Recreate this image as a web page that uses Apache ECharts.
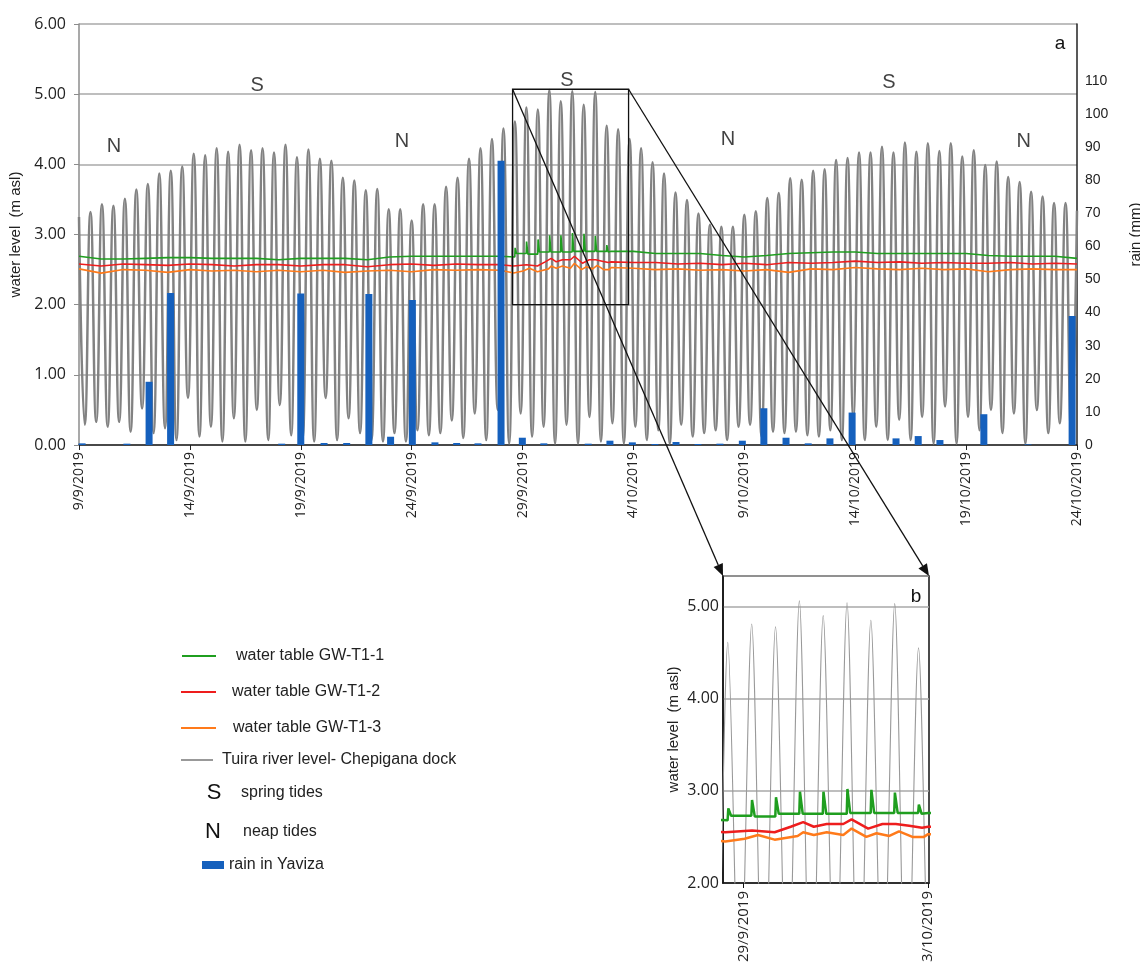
<!DOCTYPE html>
<html>
<head>
<meta charset="utf-8">
<title>Tuira river level, water table and rain</title>
<script src="https://cdn.jsdelivr.net/npm/echarts@6/dist/echarts.min.js"></script>
<style>
  html, body { margin: 0; padding: 0; background: #fff; }
  #chart { width: 1140px; height: 971px; }
</style>
</head>
<body>
<div id="chart"></div>
<script>
// x values are days counted from 9/9/2019
const dateTicks = ['9/9/2019', '14/9/2019', '19/9/2019', '24/9/2019', '29/9/2019',
  '4/10/2019', '9/10/2019', '14/10/2019', '19/10/2019', '24/10/2019']

// Tuira river, Chepigana dock: successive high and low waters (m asl)
const tideHighs = [
  3.25, 3.32, 3.43, 3.41, 3.51, 3.64, 3.72, 3.87, 3.91, 3.97, 4.15, 4.13, 4.23, 4.18, 4.28, 4.20,
  4.23, 4.17, 4.28, 4.10, 4.21, 4.08, 4.05, 3.81, 3.77, 3.63, 3.65,
  3.36, 3.36, 3.20, 3.43, 3.43, 3.68, 3.81, 4.08, 4.23, 4.36, 4.51, 4.61, 4.81, 4.78, 5.06, 4.90,
  5.04, 4.85, 5.03, 4.55, 4.50, 4.36, 4.23, 4.03, 3.87, 3.60, 3.49, 3.30, 3.14, 3.11, 3.11, 3.28,
  3.33, 3.52, 3.59, 3.80, 3.78, 3.91, 3.93, 4.06, 4.09, 4.17, 4.17, 4.25, 4.17, 4.31, 4.18, 4.30,
  4.19, 4.30, 4.11, 4.20, 3.99, 4.04, 3.82, 3.75, 3.61, 3.54, 3.45, 3.45, 3.34
]
const tideLows = [
  0.29, 0.33, 0.26, 0.33, 0.19, 0.52, 0.17, 0.24, 0.07, 0.67, 0.12, 0.26, 0.05, 0.38, 0.05, 0.50,
  0.07, 0.57, 0.14, 0.10, 0.05, 0.67, 0.07, 0.38, 0.17, 0.07,
  0.05, 0.17, 0.05, 0.21, 0.14, 0.17, 0.35, 0.10, 0.45, 0.07, 0.50, 0.02, 0.45, 0.12, 0.26, 0.02,
  0.29, 0.02, 0.40, 0.05, 0.31, 0.02, 0.26, 0.07, 0.21, 0.02, 0.29, 0.12, 0.17, 0.21, 0.07, 0.26,
  0.29, 0.12, 0.19, 0.17, 0.19, 0.14, 0.12, 0.21, 0.07, 0.40, 0.07, 0.26, 0.07, 0.36, 0.07, 0.40,
  0.02, 0.55, 0.02, 0.40, 0.21, 0.50, 0.17, 0.45, 0.02, 0.50, 0.17, 0.31, 0.17
]
const tideStep = 45 / 174 // half a tidal cycle, in days

// water table, one reading per day (days 0..45)
const gw1Daily = [2.69, 2.65, 2.65, 2.66, 2.67, 2.67, 2.66, 2.66, 2.66, 2.64, 2.66, 2.66, 2.66, 2.64,
  2.68, 2.69, 2.69, 2.69, 2.69, 2.69, 2.74, 2.74, 2.75, 2.75, 2.76, 2.76, 2.73, 2.73, 2.73, 2.70,
  2.68, 2.70, 2.73, 2.74, 2.75, 2.75, 2.73, 2.73, 2.73, 2.73, 2.73, 2.70, 2.69, 2.69, 2.69, 2.66]
const gw2Daily = [2.58, 2.55, 2.58, 2.57, 2.56, 2.58, 2.57, 2.55, 2.57, 2.57, 2.55, 2.57, 2.57, 2.54,
  2.57, 2.58, 2.56, 2.58, 2.57, 2.57, 2.60, 2.62, 2.63, 2.66, 2.61, 2.60, 2.60, 2.58, 2.59, 2.57,
  2.59, 2.57, 2.60, 2.59, 2.60, 2.62, 2.60, 2.61, 2.59, 2.60, 2.59, 2.59, 2.60, 2.58, 2.59, 2.58]
const gw3Daily = [2.51, 2.45, 2.50, 2.49, 2.46, 2.50, 2.48, 2.49, 2.47, 2.49, 2.47, 2.49, 2.46, 2.48,
  2.49, 2.47, 2.50, 2.49, 2.50, 2.49, 2.52, 2.54, 2.55, 2.57, 2.53, 2.52, 2.50, 2.51, 2.49, 2.50,
  2.48, 2.50, 2.46, 2.51, 2.50, 2.53, 2.51, 2.50, 2.52, 2.50, 2.51, 2.47, 2.50, 2.51, 2.50, 2.50]

// spring tide window (29/9 - 3/10), read at high resolution
const gw1SpikeDays = [19.665, 20.18, 20.70, 21.22, 21.73, 22.25, 22.77, 23.28, 23.80]
const gw1SpikePeaks = [2.81, 2.90, 2.93, 2.99, 2.99, 3.02, 3.01, 2.98, 2.85]
const gw1SpikeBase = [2.73, 2.72, 2.75, 2.75, 2.75, 2.76, 2.76, 2.76, 2.75]
const gw2Window = [[19.6, 2.55], [20.18, 2.57], [20.67, 2.55], [21.02, 2.61], [21.29, 2.66],
  [21.52, 2.61], [21.80, 2.64], [22.16, 2.64], [22.34, 2.69], [22.70, 2.59], [23.01, 2.64],
  [23.30, 2.64], [23.59, 2.62], [23.87, 2.60]]
const gw3Window = [[19.6, 2.45], [20.02, 2.48], [20.31, 2.52], [20.67, 2.47], [21.17, 2.51],
  [21.29, 2.55], [21.52, 2.52], [21.80, 2.55], [22.16, 2.52], [22.34, 2.59], [22.66, 2.50],
  [22.88, 2.54], [23.16, 2.51], [23.37, 2.56], [23.66, 2.50], [23.91, 2.50]]

// rain in Yaviza (mm)
const rainDays = [0.14, 2.16, 3.16, 4.13, 9.14, 10.0, 11.05, 12.07, 13.07, 14.05, 15.03, 16.05,
  17.03, 17.99, 19.03, 19.99, 20.96, 22.96, 23.94, 24.95, 25.97, 26.92, 27.91, 28.9, 29.91, 30.88,
  31.88, 32.88, 33.86, 34.86, 36.84, 37.84, 38.82, 40.8, 42.79, 44.78]
const rainMm = [0.5, 0.4, 19.1, 45.9, 0.4, 45.8, 0.6, 0.6, 45.6, 2.5, 43.8, 0.8, 0.6, 0.5, 85.9,
  2.2, 0.5, 0.4, 1.3, 0.8, 0.3, 0.9, 0.3, 0.4, 1.3, 11.1, 2.2, 0.5, 2.0, 9.8, 2.0, 2.7, 1.5, 9.3,
  0.2, 39]

// spring / neap marks
const phaseLabels = ['N', 'S', 'N', 'S', 'N', 'S', 'N']
const phaseDays = [1.58, 8.03, 14.56, 22.0, 29.26, 36.52, 42.6]
const phaseLevels = [4.25, 5.13, 4.33, 5.2, 4.35, 5.16, 4.33]

// zoomed box (days, levels) and inset b
const zoomBox = [19.55, 24.78, 2.0, 5.07]
const insetRange = [19.55, 24.02]
const insetMax = 5.33
const insetTickDays = [20, 24]
const insetTickLabels = ['29/9/2019', '3/10/2019']

const GREEN = '#1f9e1f'
const RED = '#ee1d1d'
const ORANGE = '#ff7a1a'
const GREY = '#828282'
const BLUE = '#1560bd'

const tideData = []
tideHighs.forEach((h, i) => {
  tideData.push([2 * i * tideStep, h])
  if (i < tideLows.length) tideData.push([(2 * i + 1) * tideStep, tideLows[i]])
})

const gw1Data = []
gw1Daily.forEach((v, d) => { if (d < 19.5) gw1Data.push([d, v]) })
gw1SpikeDays.forEach((t, i) => {
  const before = i === 0 ? 2.68 : gw1SpikeBase[i - 1]
  gw1Data.push([t - 0.015, before], [t, gw1SpikePeaks[i]], [t + 0.06, gw1SpikeBase[i]])
})
gw1Daily.forEach((v, d) => { if (d > 23.95) gw1Data.push([d, v]) })

const mergeWindow = (daily, win) => {
  const out = []
  daily.forEach((v, d) => { if (d < 19.5) out.push([d, v]) })
  win.forEach(p => out.push(p))
  daily.forEach((v, d) => { if (d > 23.95) out.push([d, v]) })
  return out
}
const gw2Data = mergeWindow(gw2Daily, gw2Window)
const gw3Data = mergeWindow(gw3Daily, gw3Window)
const rainData = rainDays.map((d, i) => [d, rainMm[i]])
const phaseData = phaseDays.map((d, i) => [d, phaseLevels[i], phaseLabels[i]])

const chart = echarts.init(document.getElementById('chart'))

const lineSeries = (name, data, color, width, xi, yi, z) => ({
  name, type: 'line', data, xAxisIndex: xi, yAxisIndex: yi, z,
  showSymbol: false, symbol: 'none',
  lineStyle: { color, width },
  itemStyle: { color }
})

const legendItems = [
  { y: 656, swatch: 'line', color: GREEN, x0: 182, x1: 216, tx: 236, text: 'water table GW-T1-1' },
  { y: 692, swatch: 'line', color: RED, x0: 181, x1: 216, tx: 232, text: 'water table GW-T1-2' },
  { y: 728, swatch: 'line', color: ORANGE, x0: 181, x1: 216, tx: 233, text: 'water table GW-T1-3' },
  { y: 760, swatch: 'line', color: '#999', x0: 181, x1: 213, tx: 222, text: 'Tuira river level- Chepigana dock' },
  { y: 793, swatch: 'letter', letter: 'S', x0: 214, tx: 241, text: 'spring tides' },
  { y: 832, swatch: 'letter', letter: 'N', x0: 213, tx: 243, text: 'neap tides' },
  { y: 865, swatch: 'rect', color: BLUE, x0: 202, x1: 224, tx: 229, text: 'rain in Yaviza' }
]
const legendGraphics = []
legendItems.forEach(it => {
  if (it.swatch === 'line') {
    legendGraphics.push({ type: 'line', shape: { x1: it.x0, y1: it.y, x2: it.x1, y2: it.y },
      style: { stroke: it.color, lineWidth: 2 } })
  } else if (it.swatch === 'rect') {
    legendGraphics.push({ type: 'rect', shape: { x: it.x0, y: it.y - 4, width: it.x1 - it.x0, height: 8 },
      style: { fill: it.color } })
  } else {
    legendGraphics.push({ type: 'text', x: it.x0, y: it.y,
      style: { text: it.letter, font: '22px "Liberation Sans", Arial', fill: '#111', align: 'center', verticalAlign: 'middle' } })
  }
  legendGraphics.push({ type: 'text', x: it.tx, y: it.y,
    style: { text: it.text, font: '16px "Liberation Sans", Arial', fill: '#222', verticalAlign: 'middle' } })
})

const option = {
  animation: false,
  backgroundColor: '#fff',
  textStyle: { fontFamily: '"Liberation Sans", Arial, sans-serif' },
  grid: [
    { left: 79, top: 24, width: 998, height: 421, outerBoundsMode: 'none' },
    { left: 723, top: 576, width: 206, height: 307, outerBoundsMode: 'none', show: true, borderColor: '#111', borderWidth: 1.5 }
  ],
  xAxis: [
    {
      type: 'value', gridIndex: 0, min: 0, max: 45, interval: 5,
      axisLine: { lineStyle: { color: '#222', width: 1.5 } },
      axisTick: { show: true, length: 5, lineStyle: { color: '#222' } },
      axisLabel: {
        rotate: 90, fontSize: 14, color: '#222', fontFamily: '"Open Sans"', margin: 7,
        formatter: v => dateTicks[Math.round(v / 5)]
      },
      splitLine: { show: false }
    },
    {
      type: 'value', gridIndex: 1, min: insetRange[0], max: insetRange[1],
      axisLine: { lineStyle: { color: '#111', width: 1.5 } },
      axisTick: { show: true, customValues: insetTickDays, length: 5, lineStyle: { color: '#111' } },
      axisLabel: {
        customValues: insetTickDays, rotate: 90, fontSize: 15, color: '#222', fontFamily: '"Open Sans"', margin: 8,
        formatter: v => insetTickLabels[insetTickDays.indexOf(v)]
      },
      splitLine: { show: false }
    }
  ],
  yAxis: [
    {
      type: 'value', gridIndex: 0, position: 'left', min: 0, max: 6, interval: 1,
      name: 'water level  (m asl)', nameLocation: 'middle', nameGap: 55, nameRotate: 90,
      nameTextStyle: { fontSize: 15, color: '#222' },
      axisLine: { show: true, lineStyle: { color: '#8c8c8c', width: 1.5 } },
      axisTick: { show: true, length: 5, lineStyle: { color: '#8c8c8c' } },
      axisLabel: { formatter: v => v.toFixed(2), fontSize: 16, color: '#222', fontFamily: '"Open Sans"', margin: 13 },
      splitLine: { lineStyle: { color: '#a8a8a8', width: 1.5 } }
    },
    {
      type: 'value', gridIndex: 0, position: 'right', min: 0, max: 127.2, interval: 10,
      name: 'rain (mm)', nameLocation: 'middle', nameGap: 51, nameRotate: 90,
      nameTextStyle: { fontSize: 15, color: '#222' },
      axisLine: { show: true, lineStyle: { color: '#222', width: 1.5 } },
      axisTick: { show: false },
      axisLabel: {
        showMaxLabel: false, formatter: v => (v <= 110 ? String(v) : ''),
        fontSize: 14, color: '#222', fontFamily: '"Liberation Sans Narrow", "Liberation Sans"',
        margin: 8, verticalAlign: 'middle', padding: [0, 0, 10, 0]
      },
      splitLine: { show: false }
    },
    {
      type: 'value', gridIndex: 1, min: 2, max: insetMax, interval: 1,
      name: 'water level  (m asl)', nameLocation: 'middle', nameGap: 42, nameRotate: 90,
      nameTextStyle: { fontSize: 15, color: '#222' },
      axisLine: { show: true, lineStyle: { color: '#111', width: 1.5 } },
      axisTick: { show: false },
      axisLabel: { showMaxLabel: false, formatter: v => v.toFixed(2), fontSize: 16, color: '#222', fontFamily: '"Open Sans"', margin: 4 },
      splitLine: { lineStyle: { color: '#a8a8a8', width: 1.5 } }
    }
  ],
  series: [
    Object.assign(lineSeries('Tuira river level- Chepigana dock', tideData, GREY, 2.5, 0, 0, 2), { smooth: 0.5 }),
    lineSeries('water table GW-T1-1', gw1Data, GREEN, 1.6, 0, 0, 3),
    lineSeries('water table GW-T1-2', gw2Data, RED, 1.6, 0, 0, 3),
    lineSeries('water table GW-T1-3', gw3Data, ORANGE, 1.6, 0, 0, 3),
    {
      name: 'rain in Yaviza', type: 'bar', xAxisIndex: 0, yAxisIndex: 1, z: 4,
      data: rainData, barWidth: 7, itemStyle: { color: BLUE }
    },
    {
      type: 'scatter', xAxisIndex: 0, yAxisIndex: 0, z: 5, data: phaseData,
      symbolSize: 1, itemStyle: { color: 'rgba(0,0,0,0)' }, silent: true,
      label: {
        show: true, position: 'inside', formatter: p => p.data[2],
        fontSize: 20, color: '#111', fontFamily: '"Liberation Sans", Arial'
      }
    },
    Object.assign(lineSeries('inset river', tideData, '#999', 1.1, 1, 2, 2), { smooth: 0.3 }),
    lineSeries('inset GW-T1-1', gw1Data, GREEN, 2.5, 1, 2, 3),
    lineSeries('inset GW-T1-2', gw2Data, RED, 2.5, 1, 2, 3),
    lineSeries('inset GW-T1-3', gw3Data, ORANGE, 2.5, 1, 2, 3)
  ],
  graphic: legendGraphics.concat([
    { type: 'text', x: 1060, y: 44, style: { text: 'a', font: '19px "Liberation Sans", Arial', fill: '#111', align: 'center', verticalAlign: 'middle' } },
    { type: 'text', x: 916, y: 597, style: { text: 'b', font: '19px "Liberation Sans", Arial', fill: '#111', align: 'center', verticalAlign: 'middle' } }
  ])
}
chart.setOption(option)

// box around the spring tide window and the arrows to inset b
const px = (xi, yi, v) => chart.convertToPixel({ xAxisIndex: xi, yAxisIndex: yi }, v)
const boxTL = px(0, 0, [zoomBox[0], zoomBox[3]])
const boxBR = px(0, 0, [zoomBox[1], zoomBox[2]])
const insTL = px(1, 2, [insetRange[0], insetMax])
const insTR = px(1, 2, [insetRange[1], insetMax])
const arrow = (from, to) => {
  const dx = to[0] - from[0], dy = to[1] - from[1]
  const len = Math.sqrt(dx * dx + dy * dy)
  const ux = dx / len, uy = dy / len
  const bx = to[0] - ux * 12, by = to[1] - uy * 12
  return [
    { type: 'line', z: 10, shape: { x1: from[0], y1: from[1], x2: bx, y2: by }, style: { stroke: '#111', lineWidth: 1.3 } },
    { type: 'polygon', z: 10, shape: { points: [to, [bx - uy * 5, by + ux * 5], [bx + uy * 5, by - ux * 5]] }, style: { fill: '#111' } }
  ]
}
chart.setOption({
  graphic: option.graphic.concat([
    { type: 'rect', z: 10, shape: { x: boxTL[0], y: boxTL[1], width: boxBR[0] - boxTL[0], height: boxBR[1] - boxTL[1] },
      style: { fill: 'none', stroke: '#111', lineWidth: 1.3 } }
  ], arrow(boxTL, insTL), arrow([boxBR[0], boxTL[1]], insTR))
})
</script>
</body>
</html>
